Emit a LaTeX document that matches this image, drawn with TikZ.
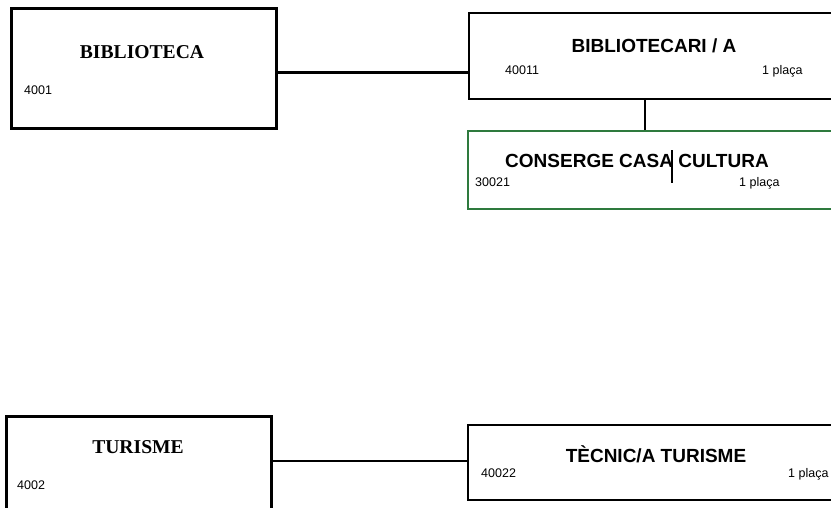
\documentclass[tikz,border=0pt]{standalone}
\usepackage{fontspec}
\setmainfont{Liberation Sans}
\newfontfamily\titolserif{Liberation Serif}
\usepackage{xcolor}
\usepackage{tikz}
\usetikzlibrary{positioning}
\definecolor{verd}{RGB}{46,122,62}
\tikzset{area/.style ={draw, line width=3pt, rectangle, anchor=north west, inner sep=0pt}}
\tikzset{lloc/.style ={draw, line width=2.2pt, rectangle, anchor=north west, inner sep=0pt}}
\tikzset{nomarea/.style ={anchor=base, inner sep=0pt, font=\titolserif\fontsize{19.6}{20}\selectfont\bfseries}}
\tikzset{nomlloc/.style ={anchor=base, inner sep=0pt, font=\fontsize{19}{19}\selectfont\bfseries}}
\tikzset{codi/.style ={anchor=base west, inner sep=0pt, font=\fontsize{12.5}{13}\selectfont}}
\tikzset{places/.style ={anchor=base west, inner sep=0pt, font=\fontsize{12.5}{13}\selectfont}}
\tikzset{unio/.style ={line width=2.2pt}}
\begin{document}
\begin{tikzpicture}[x=1pt,y=-1pt]
\clip (0,0) rectangle (831,507);
\fill[white] (0,0) rectangle (831,507);
\node [area, minimum width=265pt, minimum height=120pt] (bib) at (10,7) {};
\node [lloc, minimum width=400pt, minimum height=86pt] (bibc) at (468,12) {};
\node [lloc, draw=verd, minimum width=400pt, minimum height=78pt] (cons) at (467,130) {};
\node [area, minimum width=265pt, minimum height=120pt] (tur) at (5,415) {};
\node [lloc, minimum width=400pt, minimum height=75pt] (tec) at (467,424) {};
\node [nomarea] (bibT) at (142,58) {BIBLIOTECA};
\node [codi] (bibN) at (24,94) {4001};
\node [nomlloc] (bibcT) at (654,52) {BIBLIOTECARI / A};
\node [codi] (bibcN) at (505,74) {40011};
\node [places] (bibcP) at (762,74) {1 plaça};
\node [nomlloc] (consT) at (637,167) {CONSERGE CASA CULTURA};
\node [codi] (consN) at (475,186) {30021};
\node [places] (consP) at (739,186) {1 plaça};
\node [nomarea] (turT) at (138,453) {TURISME};
\node [codi] (turN) at (17,489) {4002};
\node [nomlloc] (tecT) at (656,462) {TÈCNIC/A TURISME};
\node [codi] (tecN) at (481,477) {40022};
\node [places] (tecP) at (788,477) {1 plaça};
\draw [unio] ([yshift=-4pt]bib.east) -- ([yshift=-4pt]bib.east -| bibc.west);
\draw [unio] (bibc.south -| 645,0) -- (cons.north -| 645,0);
\draw [unio] (tur.east |- 0,461) -- (tec.west |- 0,461);
\draw [line width=1.5pt] (672,150) -- (672,183);
\end{tikzpicture}
\end{document}
